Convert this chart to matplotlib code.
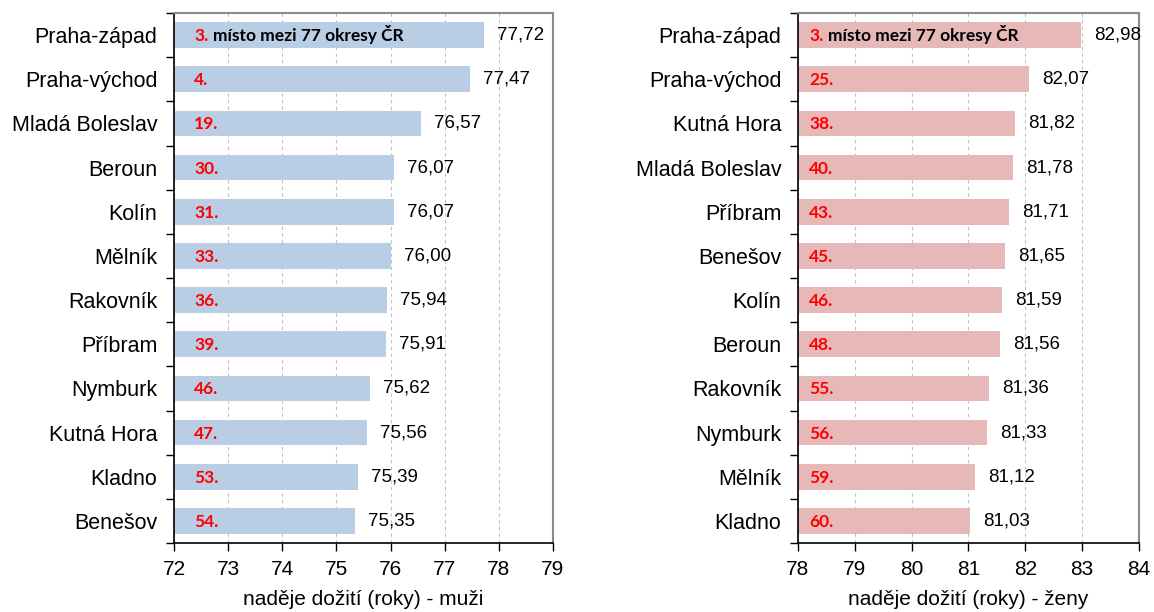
import matplotlib
matplotlib.use("Agg")
import matplotlib.pyplot as plt
from matplotlib.ticker import MultipleLocator, FixedLocator

men_districts = ["Praha-západ", "Praha-východ", "Mladá Boleslav", "Beroun", "Kolín", "Mělník",
                 "Rakovník", "Příbram", "Nymburk", "Kutná Hora", "Kladno", "Benešov"]
men_values = [77.72, 77.47, 76.57, 76.07, 76.07, 76.00, 75.94, 75.91, 75.62, 75.56, 75.39, 75.35]
men_ranks = [3, 4, 19, 30, 31, 33, 36, 39, 46, 47, 53, 54]

women_districts = ["Praha-západ", "Praha-východ", "Kutná Hora", "Mladá Boleslav", "Příbram", "Benešov",
                   "Kolín", "Beroun", "Rakovník", "Nymburk", "Mělník", "Kladno"]
women_values = [82.98, 82.07, 81.82, 81.78, 81.71, 81.65, 81.59, 81.56, 81.36, 81.33, 81.12, 81.03]
women_ranks = [3, 25, 38, 40, 43, 45, 46, 48, 55, 56, 59, 60]

men_xlim = (72, 79)
women_xlim = (78, 84)
men_xlabel = "naděje dožití (roky) - muži"
women_xlabel = "naděje dožití (roky) - ženy"
first_suffix = "místo mezi 77 okresy ČR"

plt.rcParams['font.family'] = ['Liberation Sans', 'DejaVu Sans']
RANK_FONT = ['Lato', 'DejaVu Sans']

fig = plt.figure(figsize=(11.54, 6.12), dpi=100)
ax1 = fig.add_axes([174/1154, 1-543/612, 379/1154, 530/612])
ax2 = fig.add_axes([798/1154, 1-543/612, 341/1154, 530/612])
first_rank_texts = []


def draw(ax, names, values, ranks, xlim, color, xlabel, rank_offset):
    n = len(names)
    y = list(range(n))
    ax.barh(y, [v - xlim[0] for v in values], left=xlim[0], height=0.58, color=color, zorder=2)
    ax.set_xlim(*xlim)
    ax.set_ylim(n - 0.5, -0.5)
    ax.xaxis.set_major_locator(MultipleLocator(1))
    ax.grid(axis='x', color='#c0c0c0', linestyle=(0, (3, 3)), linewidth=0.8, zorder=0)
    ax.set_yticks(y)
    ax.set_yticklabels(names, fontsize=15.5)
    ax.yaxis.set_minor_locator(FixedLocator([i - 0.5 for i in range(n + 1)]))
    ax.tick_params(axis='y', which='major', length=0, pad=12)
    ax.tick_params(axis='y', which='minor', length=6, width=1, color='black', direction='out')
    ax.tick_params(axis='x', which='major', length=6, width=1, labelsize=15, pad=6, direction='out')
    for s in ('top', 'right'):
        ax.spines[s].set_color('#8a8a8a')
        ax.spines[s].set_linewidth(1.5)
    for s in ('left', 'bottom'):
        ax.spines[s].set_color('black')
        ax.spines[s].set_linewidth(1.2)
    ax.set_xlabel(xlabel, fontsize=15, labelpad=8)
    for i, (v, r) in enumerate(zip(values, ranks)):
        ax.annotate(f"{v:.2f}".replace('.', ','), (v, i), xytext=(13, 0), textcoords='offset pixels',
                    ha='left', va='center', fontsize=13.5, color='black')
        t = ax.annotate(f"{r}.", (xlim[0], i), xytext=(rank_offset, -6), textcoords='offset pixels',
                        ha='left', va='baseline', fontsize=12.5, color='#ff0000', fontweight='bold',
                        family=RANK_FONT)
        if i == 0:
            first_rank_texts.append((ax, t, xlim[0], rank_offset))


draw(ax1, men_districts, men_values, men_ranks, men_xlim, '#b9cde5', men_xlabel, 20)
draw(ax2, women_districts, women_values, women_ranks, women_xlim, '#e6b9b8', women_xlabel, 11)

fig.canvas.draw()
renderer = fig.canvas.get_renderer()
for ax, t, x0, off in first_rank_texts:
    w = t.get_window_extent(renderer).width
    ax.annotate(first_suffix, (x0, 0), xytext=(off + w + 5, -6), textcoords='offset pixels',
                ha='left', va='baseline', fontsize=12.5, color='black', fontweight='bold',
                family=RANK_FONT)

fig.savefig("out.png", dpi=100)
